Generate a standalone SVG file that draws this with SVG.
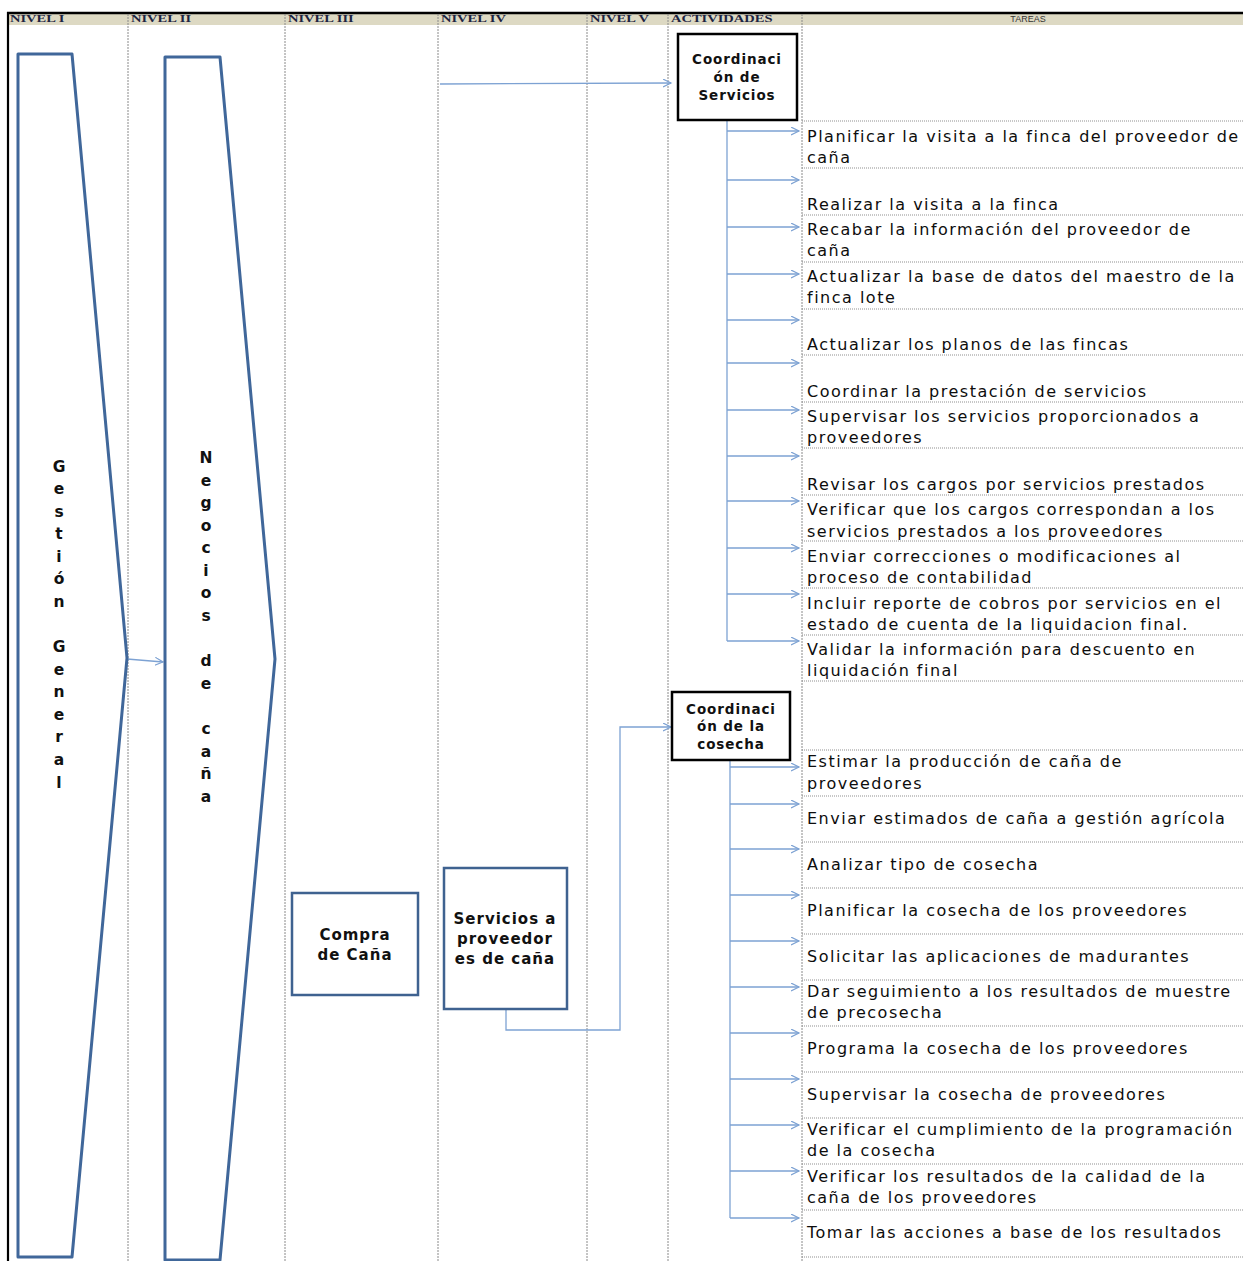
<svg xmlns="http://www.w3.org/2000/svg" width="1243" height="1261" viewBox="0 0 1243 1261">
<defs>
<marker id="ah" markerWidth="10" markerHeight="10" refX="8" refY="4" orient="auto" markerUnits="userSpaceOnUse"><path d="M0,0 L8,4 L0,8" fill="none" stroke="#7da2d3" stroke-width="1.2"/></marker>
<clipPath id="hdr"><rect x="8" y="14" width="1235" height="11"/></clipPath>
</defs>
<style>
.hd{font-family:"Liberation Serif",serif;font-weight:bold;font-size:14.5px;fill:#1d2542}
.col{stroke:#8a8a8a;stroke-width:1;stroke-dasharray:2 1;fill:none}
.row{stroke:#8f8f8f;stroke-width:1;stroke-dasharray:1 1;fill:none}
.chev{fill:none;stroke:#40679a;stroke-width:3;stroke-linejoin:round}
.vl{font-family:"DejaVu Sans",sans-serif;font-weight:bold;font-size:15.5px;fill:#111;text-anchor:middle}
.bx{fill:#fff;stroke:#3f6290;stroke-width:2.5}
.bk{fill:#fff;stroke:#000;stroke-width:2.5}
.bt{font-family:"DejaVu Sans",sans-serif;font-weight:bold;font-size:15px;letter-spacing:1px;fill:#111;text-anchor:middle}
.ct{font-family:"DejaVu Sans",sans-serif;font-weight:bold;font-size:13.5px;letter-spacing:0.9px;fill:#111;text-anchor:middle}
.tk{font-family:"DejaVu Sans",sans-serif;font-size:16px;letter-spacing:1.5px;fill:#0d0d0d}
.cn{fill:none;stroke:#7da2d3;stroke-width:1.3}
</style>
<rect width="1243" height="1261" fill="#fff"/>
<!-- header -->
<rect x="8" y="14" width="1235" height="11" fill="#ddd9c3"/>
<g clip-path="url(#hdr)">
<text class="hd" transform="translate(10,21.5) scale(1,0.78)">NIVEL I</text>
<text class="hd" transform="translate(131,21.5) scale(1,0.78)">NIVEL II</text>
<text class="hd" transform="translate(288,21.5) scale(1,0.78)">NIVEL III</text>
<text class="hd" transform="translate(441,21.5) scale(1,0.78)">NIVEL IV</text>
<text class="hd" transform="translate(590,21.5) scale(1,0.78)">NIVEL V</text>
<text class="hd" transform="translate(671,21.5) scale(1,0.78)">ACTIVIDADES</text>
<text x="1028" y="21.5" font-family="Liberation Sans, sans-serif" font-size="9" fill="#333" text-anchor="middle">TAREAS</text>
</g>
<line x1="7" y1="13" x2="1243" y2="13" stroke="#000" stroke-width="2.5"/>
<line x1="8" y1="12" x2="8" y2="1261" stroke="#000" stroke-width="2.2"/>
<!-- column dividers -->
<g>
<line class="col" x1="128" y1="14" x2="128" y2="1261"/>
<line class="col" x1="285" y1="14" x2="285" y2="1261"/>
<line class="col" x1="438" y1="14" x2="438" y2="1261"/>
<line class="col" x1="587" y1="14" x2="587" y2="1261"/>
<line class="col" x1="668" y1="14" x2="668" y2="1261"/>
<line class="col" x1="802" y1="14" x2="802" y2="1261"/>
</g>
<!-- row separators -->
<g>
<line class="row" x1="802" y1="121" x2="1243" y2="121"/>
<line class="row" x1="802" y1="168" x2="1243" y2="168"/>
<line class="row" x1="802" y1="215" x2="1243" y2="215"/>
<line class="row" x1="802" y1="262" x2="1243" y2="262"/>
<line class="row" x1="802" y1="309" x2="1243" y2="309"/>
<line class="row" x1="802" y1="355" x2="1243" y2="355"/>
<line class="row" x1="802" y1="402" x2="1243" y2="402"/>
<line class="row" x1="802" y1="448" x2="1243" y2="448"/>
<line class="row" x1="802" y1="495" x2="1243" y2="495"/>
<line class="row" x1="802" y1="541" x2="1243" y2="541"/>
<line class="row" x1="802" y1="588" x2="1243" y2="588"/>
<line class="row" x1="802" y1="635" x2="1243" y2="635"/>
<line class="row" x1="802" y1="681" x2="1243" y2="681"/>
<line class="row" x1="802" y1="750" x2="1243" y2="750"/>
<line class="row" x1="802" y1="796" x2="1243" y2="796"/>
<line class="row" x1="802" y1="842" x2="1243" y2="842"/>
<line class="row" x1="802" y1="888" x2="1243" y2="888"/>
<line class="row" x1="802" y1="934" x2="1243" y2="934"/>
<line class="row" x1="802" y1="980" x2="1243" y2="980"/>
<line class="row" x1="802" y1="1026" x2="1243" y2="1026"/>
<line class="row" x1="802" y1="1072" x2="1243" y2="1072"/>
<line class="row" x1="802" y1="1118" x2="1243" y2="1118"/>
<line class="row" x1="802" y1="1164" x2="1243" y2="1164"/>
<line class="row" x1="802" y1="1210" x2="1243" y2="1210"/>
<line class="row" x1="802" y1="1257" x2="1243" y2="1257"/>
</g>
<!-- connectors -->
<g id="connectors">
<polyline class="cn" points="127,659 163,662" marker-end="url(#ah)"/>
<polyline class="cn" points="440,84 671,83" marker-end="url(#ah)"/>
<polyline class="cn" points="506,1009 506,1030 620,1030 620,727 671,727" marker-end="url(#ah)"/>
<line class="cn" x1="727" y1="121" x2="727" y2="641"/>
<line class="cn" x1="727" y1="131" x2="799" y2="131" marker-end="url(#ah)"/>
<line class="cn" x1="727" y1="180" x2="799" y2="180" marker-end="url(#ah)"/>
<line class="cn" x1="727" y1="227" x2="799" y2="227" marker-end="url(#ah)"/>
<line class="cn" x1="727" y1="274" x2="799" y2="274" marker-end="url(#ah)"/>
<line class="cn" x1="727" y1="320" x2="799" y2="320" marker-end="url(#ah)"/>
<line class="cn" x1="727" y1="363" x2="799" y2="363" marker-end="url(#ah)"/>
<line class="cn" x1="727" y1="410" x2="799" y2="410" marker-end="url(#ah)"/>
<line class="cn" x1="727" y1="456" x2="799" y2="456" marker-end="url(#ah)"/>
<line class="cn" x1="727" y1="501" x2="799" y2="501" marker-end="url(#ah)"/>
<line class="cn" x1="727" y1="548" x2="799" y2="548" marker-end="url(#ah)"/>
<line class="cn" x1="727" y1="594" x2="799" y2="594" marker-end="url(#ah)"/>
<line class="cn" x1="727" y1="641" x2="799" y2="641" marker-end="url(#ah)"/>
<line class="cn" x1="730" y1="760" x2="730" y2="1218"/>
<line class="cn" x1="730" y1="767" x2="799" y2="767" marker-end="url(#ah)"/>
<line class="cn" x1="730" y1="804" x2="799" y2="804" marker-end="url(#ah)"/>
<line class="cn" x1="730" y1="849" x2="799" y2="849" marker-end="url(#ah)"/>
<line class="cn" x1="730" y1="895" x2="799" y2="895" marker-end="url(#ah)"/>
<line class="cn" x1="730" y1="941" x2="799" y2="941" marker-end="url(#ah)"/>
<line class="cn" x1="730" y1="987" x2="799" y2="987" marker-end="url(#ah)"/>
<line class="cn" x1="730" y1="1033" x2="799" y2="1033" marker-end="url(#ah)"/>
<line class="cn" x1="730" y1="1079" x2="799" y2="1079" marker-end="url(#ah)"/>
<line class="cn" x1="730" y1="1125" x2="799" y2="1125" marker-end="url(#ah)"/>
<line class="cn" x1="730" y1="1171" x2="799" y2="1171" marker-end="url(#ah)"/>
<line class="cn" x1="730" y1="1218" x2="799" y2="1218" marker-end="url(#ah)"/>
</g>
<!-- chevrons -->
<g id="gestion-general">
<polygon class="chev" points="18,54 72,54 127,658 72,1257 18,1257"/>
<text class="vl" x="59" y="471.5">G</text>
<text class="vl" x="59" y="494">e</text>
<text class="vl" x="59" y="516.5">s</text>
<text class="vl" x="59" y="539">t</text>
<text class="vl" x="59" y="561.5">i</text>
<text class="vl" x="59" y="584">ó</text>
<text class="vl" x="59" y="607">n</text>
<text class="vl" x="59" y="652">G</text>
<text class="vl" x="59" y="674.5">e</text>
<text class="vl" x="59" y="697">n</text>
<text class="vl" x="59" y="719.5">e</text>
<text class="vl" x="59" y="742">r</text>
<text class="vl" x="59" y="765">a</text>
<text class="vl" x="59" y="787.5">l</text>
</g>
<g id="negocios-cana">
<polygon class="chev" points="165,57 220,57 275,659 220,1260 165,1260"/>
<text class="vl" x="206" y="463">N</text>
<text class="vl" x="206" y="485.5">e</text>
<text class="vl" x="206" y="508">g</text>
<text class="vl" x="206" y="530.5">o</text>
<text class="vl" x="206" y="553">c</text>
<text class="vl" x="206" y="575.5">i</text>
<text class="vl" x="206" y="598">o</text>
<text class="vl" x="206" y="621">s</text>
<text class="vl" x="206" y="666">d</text>
<text class="vl" x="206" y="689">e</text>
<text class="vl" x="206" y="734">c</text>
<text class="vl" x="206" y="757">a</text>
<text class="vl" x="206" y="779">ñ</text>
<text class="vl" x="206" y="802">a</text>
</g>
<!-- boxes -->
<g id="compra-cana">
<rect class="bx" x="292" y="893" width="126" height="102"/>
<text class="bt" x="355" y="940">Compra</text>
<text class="bt" x="355" y="960">de Caña</text>
</g>
<g id="servicios-proveedores">
<rect class="bx" x="444" y="868" width="123" height="141"/>
<text class="bt" x="505" y="924">Servicios a</text>
<text class="bt" x="505" y="944">proveedor</text>
<text class="bt" x="505" y="964">es de caña</text>
</g>
<g id="coord-servicios">
<rect class="bk" x="678" y="34" width="119" height="86"/>
<text class="ct" x="737" y="64">Coordinaci</text>
<text class="ct" x="737" y="82">ón de</text>
<text class="ct" x="737" y="100">Servicios</text>
</g>
<g id="coord-cosecha">
<rect class="bk" x="672" y="692" width="118" height="68"/>
<text class="ct" x="731" y="713.5">Coordinaci</text>
<text class="ct" x="731" y="731">ón de la</text>
<text class="ct" x="731" y="749">cosecha</text>
</g>
<!-- tasks -->
<g id="tareas-servicios">
<text class="tk" x="807" y="142">Planificar la visita a la finca del proveedor de</text>
<text class="tk" x="807" y="163">caña</text>
<text class="tk" x="807" y="210">Realizar la visita a la finca</text>
<text class="tk" x="807" y="235">Recabar la información del proveedor de</text>
<text class="tk" x="807" y="256">caña</text>
<text class="tk" x="807" y="282">Actualizar la base de datos del maestro de la</text>
<text class="tk" x="807" y="303">finca lote</text>
<text class="tk" x="807" y="350">Actualizar los planos de las fincas</text>
<text class="tk" x="807" y="397">Coordinar la prestación de servicios</text>
<text class="tk" x="807" y="422">Supervisar los servicios proporcionados a</text>
<text class="tk" x="807" y="443">proveedores</text>
<text class="tk" x="807" y="490">Revisar los cargos por servicios prestados</text>
<text class="tk" x="807" y="515">Verificar que los cargos correspondan a los</text>
<text class="tk" x="807" y="537">servicios prestados a los proveedores</text>
<text class="tk" x="807" y="562">Enviar correcciones o modificaciones al</text>
<text class="tk" x="807" y="583">proceso de contabilidad</text>
<text class="tk" x="807" y="609">Incluir reporte de cobros por servicios en el</text>
<text class="tk" x="807" y="630">estado de cuenta de la liquidacion final.</text>
<text class="tk" x="807" y="655">Validar la información para descuento en</text>
<text class="tk" x="807" y="676">liquidación final</text>
</g>
<g id="tareas-cosecha">
<text class="tk" x="807" y="767">Estimar la producción de caña de</text>
<text class="tk" x="807" y="789">proveedores</text>
<text class="tk" x="807" y="824">Enviar estimados de caña a gestión agrícola</text>
<text class="tk" x="807" y="870">Analizar tipo de cosecha</text>
<text class="tk" x="807" y="916">Planificar la cosecha de los proveedores</text>
<text class="tk" x="807" y="962">Solicitar las aplicaciones de madurantes</text>
<text class="tk" x="807" y="997">Dar seguimiento a los resultados de muestre</text>
<text class="tk" x="807" y="1018">de precosecha</text>
<text class="tk" x="807" y="1054">Programa la cosecha de los proveedores</text>
<text class="tk" x="807" y="1100">Supervisar la cosecha de proveedores</text>
<text class="tk" x="807" y="1135">Verificar el cumplimiento de la programación</text>
<text class="tk" x="807" y="1156">de la cosecha</text>
<text class="tk" x="807" y="1182">Verificar los resultados de la calidad de la</text>
<text class="tk" x="807" y="1203">caña de los proveedores</text>
<text class="tk" x="807" y="1238">Tomar las acciones a base de los resultados</text>
</g>
</svg>
